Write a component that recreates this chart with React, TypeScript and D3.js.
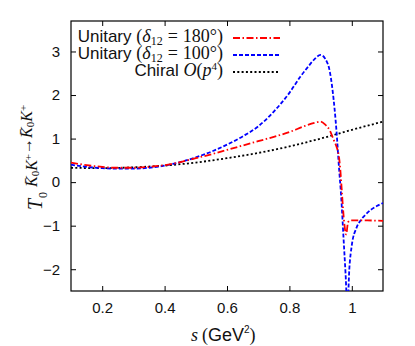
import { useEffect, useRef } from "react";
import * as d3 from "d3";

// values
const redS = [0.10, 0.15, 0.20, 0.25, 0.30, 0.35, 0.40, 0.45, 0.50, 0.55, 0.60, 0.65, 0.70, 0.75, 0.80, 0.85, 0.88, 0.90, 0.915, 0.93, 0.942, 0.953, 0.958, 0.963, 0.967, 0.974, 0.982, 0.988, 0.995, 1.00, 1.05, 1.10];
const redT = [0.45, 0.39, 0.35, 0.33, 0.33, 0.35, 0.39, 0.46, 0.55, 0.64, 0.74, 0.84, 0.94, 1.04, 1.15, 1.29, 1.36, 1.39, 1.32, 1.18, 0.97, 0.77, 0.62, 0.30, -0.10, -0.80, -1.20, -0.92, -0.88, -0.88, -0.88, -0.89];

const blueS = [0.10, 0.15, 0.20, 0.25, 0.30, 0.35, 0.40, 0.45, 0.50, 0.55, 0.60, 0.65, 0.70, 0.75, 0.80, 0.835, 0.86, 0.88, 0.90, 0.915, 0.93, 0.942, 0.948, 0.953, 0.958, 0.966, 0.974, 0.980, 0.986, 0.992, 1.00, 1.015, 1.03, 1.045, 1.06, 1.08, 1.10];
const blueT = [0.40, 0.35, 0.32, 0.31, 0.31, 0.33, 0.38, 0.46, 0.57, 0.70, 0.86, 1.05, 1.28, 1.62, 2.05, 2.42, 2.65, 2.82, 2.92, 2.83, 2.52, 1.88, 1.43, 0.97, 0.43, -0.34, -1.35, -2.10, -2.90, -2.00, -1.45, -1.05, -0.86, -0.74, -0.64, -0.55, -0.48];

const chiralS = [0.1, 0.2, 0.3, 0.4, 0.5, 0.6, 0.7, 0.8, 0.9, 1.0, 1.1];
const chiralT = [0.33, 0.32, 0.34, 0.38, 0.45, 0.55, 0.67, 0.82, 1.0, 1.2, 1.39];

const xTicks = [0.2, 0.4, 0.6, 0.8, 1];
const yTicks = [-2, -1, 0, 1, 2, 3];

const legendRows = [
  { value: "180°", color: "#ff0000", dash: "7,2.5,1.5,2.5" },
  { value: "100°", color: "#0000ff", dash: "4,2" },
];

const App = () => {
  const ref = useRef<SVGSVGElement>(null);

  useEffect(() => {
    const svg = d3.select(ref.current);
    svg.selectAll("*").remove();

    const W = 415, H = 346;
    const margin = { top: 21, right: 32, bottom: 55, left: 71 };
    const width = W - margin.left - margin.right;
    const height = H - margin.top - margin.bottom;

    const x = d3.scaleLinear().domain([0.1, 1.1]).range([0, width]);
    const y = d3.scaleLinear().domain([-2.5, 3.7]).range([height, 0]);

    const sans = "'Liberation Sans', Arial, sans-serif";
    const serif = "'Liberation Serif', 'Times New Roman', serif";

    const g = svg.append("g").attr("transform", `translate(${margin.left},${margin.top})`);

    g.append("clipPath").attr("id", "plot-clip")
      .append("rect").attr("width", width).attr("height", height);

    // axes, ticks pointing inward
    const styleAxis = (sel: any, labels: boolean) => {
      sel.select(".domain").remove();
      sel.selectAll(".tick line").attr("stroke", "#000").attr("stroke-width", 1);
      sel.selectAll(".tick text")
        .attr("font-family", sans)
        .attr("font-size", 15)
        .attr("fill", "#111");
      if (!labels) sel.selectAll(".tick text").remove();
    };

    g.append("g").attr("transform", `translate(0,${height})`)
      .call(d3.axisBottom(x).tickValues(xTicks).tickSize(-5).tickSizeOuter(0).tickPadding(11).tickFormat(d3.format("")))
      .call((s: any) => styleAxis(s, true));
    g.append("g")
      .call(d3.axisTop(x).tickValues(xTicks).tickSize(-5).tickSizeOuter(0))
      .call((s: any) => styleAxis(s, false));
    g.append("g")
      .call(d3.axisLeft(y).tickValues(yTicks).tickSize(-5).tickSizeOuter(0).tickPadding(11).tickFormat(d3.format("")))
      .call((s: any) => styleAxis(s, true));
    g.append("g").attr("transform", `translate(${width},0)`)
      .call(d3.axisRight(y).tickValues(yTicks).tickSize(-5).tickSizeOuter(0))
      .call((s: any) => styleAxis(s, false));

    g.append("rect")
      .attr("width", width).attr("height", height)
      .attr("fill", "none").attr("stroke", "#000").attr("stroke-width", 1.2);

    const line = d3.line<[number, number]>()
      .x((d) => x(d[0]))
      .y((d) => y(d[1]))
      .curve(d3.curveMonotoneX);

    const plotArea = g.append("g").attr("clip-path", "url(#plot-clip)");
    const series = [
      { s: chiralS, t: chiralT, color: "#000", dash: "2,2.3" },
      { s: blueS, t: blueT, color: legendRows[1].color, dash: legendRows[1].dash },
      { s: redS, t: redT, color: legendRows[0].color, dash: legendRows[0].dash },
    ];
    series.forEach((ser) => {
      plotArea.append("path")
        .datum(ser.s.map((v, i) => [v, ser.t[i]] as [number, number]))
        .attr("d", line)
        .attr("fill", "none")
        .attr("stroke", ser.color)
        .attr("stroke-width", 1.8)
        .attr("stroke-dasharray", ser.dash);
    });

    // legend
    const legX = 152, lineX0 = 162, lineX1 = 209;
    const rowY = [38, 55, 72];
    legendRows.forEach((row, i) => {
      const t = g.append("text")
        .attr("x", legX).attr("y", rowY[i] - margin.top + 3.7)
        .attr("text-anchor", "end")
        .attr("font-size", 17)
        .attr("fill", "#111");
      t.append("tspan").attr("font-family", sans).text("Unitary ");
      t.append("tspan").attr("font-family", serif).attr("font-size", 18).text("(");
      t.append("tspan").attr("font-family", serif).attr("font-size", 18).attr("font-style", "italic").text("δ");
      t.append("tspan").attr("font-family", serif).attr("font-size", 12).attr("dy", 3).text("12");
      t.append("tspan").attr("font-family", serif).attr("font-size", 18).attr("dy", -3).attr("dx", 5).text("=");
      t.append("tspan").attr("font-family", serif).attr("font-size", 18).attr("dx", 5).text(`${row.value})`);
      g.append("line")
        .attr("x1", lineX0).attr("x2", lineX1)
        .attr("y1", rowY[i] - margin.top).attr("y2", rowY[i] - margin.top)
        .attr("stroke", row.color).attr("stroke-width", 1.8)
        .attr("stroke-dasharray", row.dash);
    });
    const t3 = g.append("text")
      .attr("x", legX).attr("y", rowY[2] - margin.top + 3.7)
      .attr("text-anchor", "end").attr("font-size", 17).attr("fill", "#111");
    t3.append("tspan").attr("font-family", sans).text("Chiral ");
    t3.append("tspan").attr("font-family", serif).attr("font-size", 18).attr("font-style", "italic").text("O");
    t3.append("tspan").attr("font-family", serif).attr("font-size", 18).text("(");
    t3.append("tspan").attr("font-family", serif).attr("font-size", 18).attr("font-style", "italic").text("p");
    t3.append("tspan").attr("font-family", serif).attr("font-size", 11).attr("dy", -6).text("4");
    t3.append("tspan").attr("font-family", serif).attr("font-size", 18).attr("dy", 6).text(")");
    g.append("line")
      .attr("x1", lineX0).attr("x2", lineX1)
      .attr("y1", rowY[2] - margin.top).attr("y2", rowY[2] - margin.top)
      .attr("stroke", "#000").attr("stroke-width", 1.8)
      .attr("stroke-dasharray", "2,2.3");

    // x axis title
    const xt = svg.append("text")
      .attr("x", 191).attr("y", 341)
      .attr("text-anchor", "start").attr("font-size", 18).attr("fill", "#111");
    xt.append("tspan").attr("font-family", serif).attr("font-style", "italic").text("s");
    xt.append("tspan").attr("font-family", serif).attr("dx", 4).text("(");
    xt.append("tspan").attr("font-family", sans).text("GeV");
    xt.append("tspan").attr("font-family", sans).attr("font-size", 10).attr("dy", -8).text("2");
    xt.append("tspan").attr("font-family", serif).attr("dy", 8).text(")");

    // y axis title, rotated
    const yg = svg.append("g").attr("transform", "translate(42,210) rotate(-90)");
    yg.append("text")
      .attr("x", 0).attr("y", 0)
      .attr("font-family", serif).attr("font-style", "italic")
      .attr("font-size", 20).attr("fill", "#111").text("T");
    yg.append("text")
      .attr("x", 12).attr("y", 5)
      .attr("font-family", serif).attr("font-size", 12).attr("fill", "#111").text("0");
    const sup = yg.append("text")
      .attr("x", 23).attr("y", -5)
      .attr("font-family", serif).attr("font-size", 16).attr("fill", "#111");
    const kbar = (sel: any) => {
      sel.append("tspan").attr("font-style", "italic").text("K\u0304");
      sel.append("tspan").attr("font-size", 11).attr("dy", 2).text("0");
      sel.append("tspan").attr("font-style", "italic").attr("dy", -2).text("K");
      sel.append("tspan").attr("font-size", 11).attr("dy", -5).text("+");
      sel.append("tspan").attr("dy", 5).text("");
    };
    kbar(sup);
    sup.append("tspan").text("→");
    kbar(sup);
  }, []);

  return (
    <svg
      ref={ref}
      width={415}
      height={346}
      style={{ position: "absolute", left: 0, top: 0, background: "#fff" }}
    />
  );
};

export default App;
